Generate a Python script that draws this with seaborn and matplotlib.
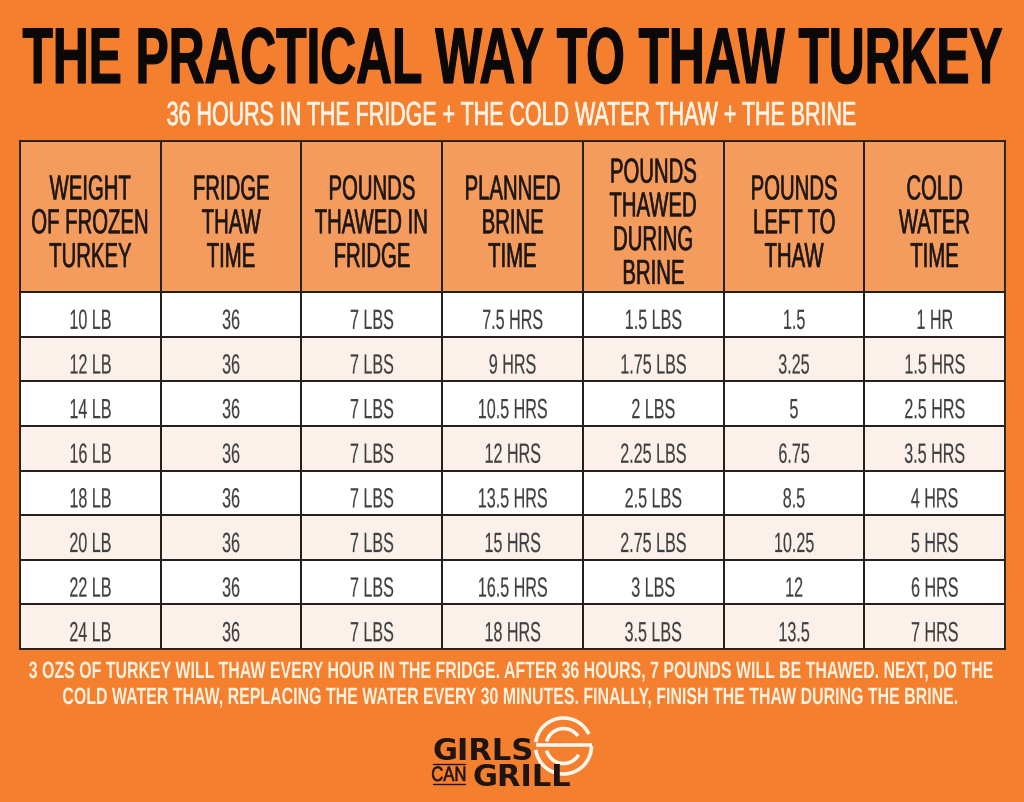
import numpy as np
import pandas as pd
import matplotlib
matplotlib.use('agg')
import matplotlib.pyplot as plt
from matplotlib.colors import ListedColormap
from matplotlib.patches import Arc
from matplotlib.patheffects import AbstractPathEffect
from matplotlib.transforms import Affine2D
import seaborn as sns

# table contents
headers = ['WEIGHT\nOF FROZEN\nTURKEY', 'FRIDGE\nTHAW\nTIME', 'POUNDS\nTHAWED IN\nFRIDGE',
           'PLANNED\nBRINE\nTIME', 'POUNDS\nTHAWED\nDURING\nBRINE', 'POUNDS\nLEFT TO\nTHAW',
           'COLD\nWATER\nTIME']
weight = ['10 LB', '12 LB', '14 LB', '16 LB', '18 LB', '20 LB', '22 LB', '24 LB']
fridge_time = ['36', '36', '36', '36', '36', '36', '36', '36']
fridge_lbs = ['7 LBS', '7 LBS', '7 LBS', '7 LBS', '7 LBS', '7 LBS', '7 LBS', '7 LBS']
brine_time = ['7.5 HRS', '9 HRS', '10.5 HRS', '12 HRS', '13.5 HRS', '15 HRS', '16.5 HRS', '18 HRS']
brine_lbs = ['1.5 LBS', '1.75 LBS', '2 LBS', '2.25 LBS', '2.5 LBS', '2.75 LBS', '3 LBS', '3.5 LBS']
left_lbs = ['1.5', '3.25', '5', '6.75', '8.5', '10.25', '12', '13.5']
water_time = ['1 HR', '1.5 HRS', '2.5 HRS', '3.5 HRS', '4 HRS', '5 HRS', '6 HRS', '7 HRS']
stripe = [0, 1, 0, 1, 0, 1, 0, 1]

title = 'THE PRACTICAL WAY TO THAW TURKEY'
subtitle = '36 HOURS IN THE FRIDGE + THE COLD WATER THAW + THE BRINE'
foot1 = '3 OZS OF TURKEY WILL THAW EVERY HOUR IN THE FRIDGE. AFTER 36 HOURS, 7 POUNDS WILL BE THAWED. NEXT, DO THE'
foot2 = 'COLD WATER THAW, REPLACING THE WATER EVERY 30 MINUTES. FINALLY, FINISH THE THAW DURING THE BRINE.'

ORANGE = '#F47F2F'
HEAD = '#F49C5E'
LINE = '#26201C'
W, H = 1024, 803


class Squeeze(AbstractPathEffect):
    # no condensed font installed, so narrow the glyphs about each line's centre
    def __init__(self, k, stroke=0.0):
        super().__init__()
        self.k = k
        self.stroke = stroke

    def draw_path(self, renderer, gc, tpath, affine, rgbFace=None):
        ext = tpath.get_extents()
        mid = (ext.x0 + ext.x1) / 2
        squeezed = Affine2D().translate(-mid, 0).scale(self.k, 1).translate(mid, 0) + affine
        gc.set_linewidth(self.stroke)
        renderer.draw_path(gc, tpath, squeezed, rgbFace)


sns.set_theme(style='white')
plt.rcParams['font.family'] = ['Liberation Sans Narrow', 'Liberation Sans']

fig = plt.figure(figsize=(W / 100, H / 100), dpi=100, facecolor=ORANGE)


def px_axes(x0, y0, x1, y1, **kw):
    return fig.add_axes([x0 / W, 1 - y1 / H, (x1 - x0) / W, (y1 - y0) / H], **kw)


def shift_texts(ax, dy):
    for t in ax.texts:
        x, y = t.get_position()
        t.set_position((x, y + dy))


# header table
ax_head = px_axes(20, 142, 1005, 293)
sns.heatmap(np.zeros((1, 7)), ax=ax_head, cmap=ListedColormap([HEAD]), cbar=False,
            annot=np.array([headers]), fmt='', linewidths=1.3, linecolor=LINE,
            xticklabels=False, yticklabels=False,
            annot_kws={'color': '#1C1512', 'fontsize': 25, 'linespacing': 1.03,
                       'path_effects': [Squeeze(0.585, 0.4)]})
shift_texts(ax_head, 0.048)

# body table
body = pd.DataFrame({'weight': weight, 'fridge_time': fridge_time, 'fridge_lbs': fridge_lbs,
                     'brine_time': brine_time, 'brine_lbs': brine_lbs, 'left_lbs': left_lbs,
                     'water_time': water_time})
ax_body = px_axes(20, 293, 1005, 650)
shade = np.tile(np.array(stripe)[:, None], (1, 7))
sns.heatmap(shade, ax=ax_body, cmap=ListedColormap(['#FFFFFF', '#FBF1EA']), cbar=False,
            annot=body.values, fmt='', linewidths=1.3, linecolor=LINE,
            xticklabels=False, yticklabels=False,
            annot_kws={'color': '#3F3F42', 'fontsize': 20,
                       'path_effects': [Squeeze(0.58, 0.1)]})
shift_texts(ax_body, 0.17)
for ax in (ax_head, ax_body):
    for s in ax.spines.values():
        s.set_visible(True)
        s.set_color(LINE)
        s.set_linewidth(1.3)

# page texts and logo, in pixel coordinates
ov = px_axes(0, 0, W, H, zorder=-1)
ov.set_xlim(0, W)
ov.set_ylim(H, 0)
ov.axis('off')
ov.text(512, 84, title, ha='center', va='baseline', fontsize=57, fontweight='bold',
        color='#0B0908', path_effects=[Squeeze(0.627, 0.8)])
ov.text(512, 126, subtitle, ha='center', va='baseline', fontsize=24,
        color='#FFF4E6', path_effects=[Squeeze(0.643, 0.5)])
ov.text(513, 679, foot1, ha='center', va='baseline', fontsize=17, fontweight='bold',
        color='#FFF1DF', path_effects=[Squeeze(0.675)])
ov.text(512, 705, foot2, ha='center', va='baseline', fontsize=17, fontweight='bold',
        color='#FFF1DF', path_effects=[Squeeze(0.675)])

# logo mark (angles run clockwise on screen because y is flipped)
cx, cy = 563.5, 747
for r, a0, a1 in [(28, 0, 172), (28, 188, 335), (17.5, 30, 165), (17.5, 195, 325)]:
    ov.add_patch(Arc((cx, cy), 2 * r, 2 * r, theta1=a0, theta2=a1, color='#FFF6EC', lw=2.6))
ov.plot([cx - 28, cx + 28], [cy - 1, cy - 1], color='#FFF6EC', lw=2.6, solid_capstyle='butt')

ov.text(433, 760, 'GIRLS', family='DejaVu Sans', fontweight='bold', fontsize=22,
        color='#1E1510', va='baseline')
ov.text(473, 786, 'GRILL', family='DejaVu Sans', fontweight='bold', fontsize=22,
        color='#1E1510', va='baseline')
ov.text(449, 782, 'CAN', ha='center', va='baseline', fontsize=15, color='#1E1510',
        path_effects=[Squeeze(0.8, 0.4)])
ov.plot([433, 465], [765, 765], color='#1E1510', lw=1)
ov.plot([433, 465], [785, 785], color='#1E1510', lw=1)

fig.savefig('out.png', dpi=100, facecolor=ORANGE)
